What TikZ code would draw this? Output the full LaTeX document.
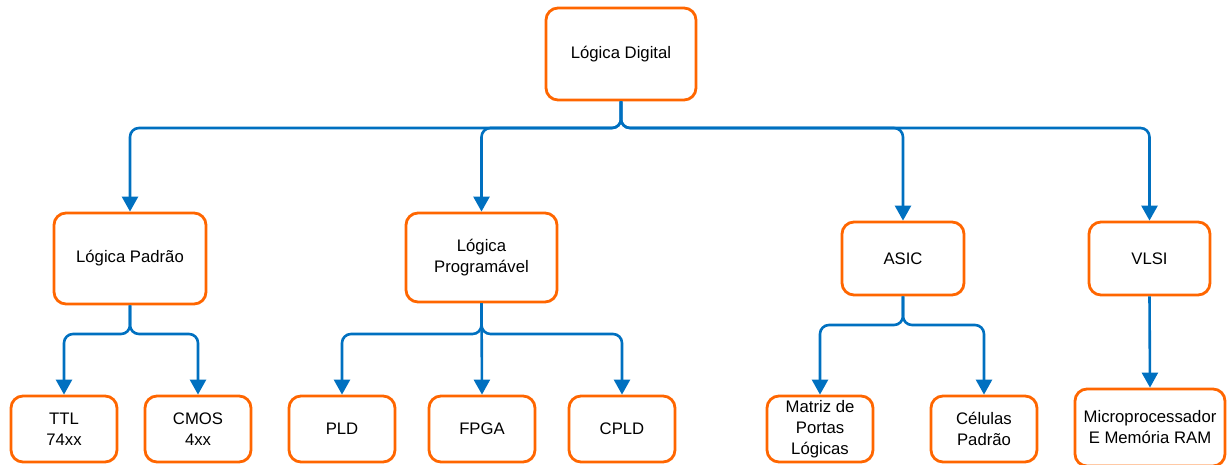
\documentclass[tikz,border=0pt]{standalone}
\usepackage{fontspec}
\setmainfont{Liberation Sans}
\usepackage{tikz}
\usetikzlibrary{arrows.meta,positioning,calc}
\usepackage{xcolor}
\definecolor{boxorange}{RGB}{255,102,0}
\definecolor{linkblue}{RGB}{0,112,192}
\tikzset{
  box/.style  = {draw=boxorange, line width=2.8pt, rounded corners=12pt,
                 fill=white, align=center, inner sep=2pt,
                 font=\fontsize{16.7}{21}\selectfont},
  link/.style = {-{Triangle[width=16pt,length=15pt]}, draw=linkblue,
                 line width=2.6pt, rounded corners=9pt},
}

\begin{document}
\begin{tikzpicture}[x=1pt,y=-1pt]
\useasboundingbox (0,0) rectangle (1229,464);
% top level
\node[box,minimum width=150pt,minimum height=92pt] (dig) at (621,54) {Lógica Digital};
% second level
\node[box,minimum width=152pt,minimum height=91pt] (pad) at (130,258.5) {Lógica Padrão};
\node[box,minimum width=151pt,minimum height=89pt] (prog) at (481.5,257.5) {Lógica\\Programável};
\node[box,minimum width=122pt,minimum height=73pt] (asic) at (903,258.5) {ASIC};
\node[box,minimum width=121pt,minimum height=73pt] (vlsi) at (1149.5,258.5) {VLSI};
% third level
\node[box,minimum width=106pt,minimum height=66pt] (ttl) at (64,429) {TTL\\74xx};
\node[box,minimum width=106pt,minimum height=66pt] (cmos) at (198,429) {CMOS\\4xx};
\node[box,minimum width=106pt,minimum height=66pt] (pld) at (342,429) {PLD};
\node[box,minimum width=106pt,minimum height=66pt] (fpga) at (482,429) {FPGA};
\node[box,minimum width=106pt,minimum height=66pt] (cpld) at (622,429) {CPLD};
\node[box,minimum width=106pt,minimum height=66pt] (mpl) at (820,429) {Matriz de\\Portas\\Lógicas};
\node[box,minimum width=106pt,minimum height=66pt] (cel) at (984,429) {Células\\Padrão};
\node[box,minimum width=150pt,minimum height=77pt] (micro) at (1150,427.5) {Microprocessador\\E Memória RAM};
% bus levels
\coordinate (bus0) at (0,128);
\coordinate (bus1) at (0,334);
\coordinate (bus2) at (0,325);
% links
\draw[link] (dig.south) |- (pad.north |- bus0) -- (pad.north);
\draw[link] (dig.south) |- (prog.north |- bus0) -- (prog.north);
\draw[link] (dig.south) |- (asic.north |- bus0) -- (asic.north);
\draw[link] (dig.south) |- (vlsi.north |- bus0) -- (vlsi.north);
\draw[link] (pad.south) |- (ttl.north |- bus1) -- (ttl.north);
\draw[link] (pad.south) |- (cmos.north |- bus1) -- (cmos.north);
\draw[link] (prog.south) |- (pld.north |- bus1) -- (pld.north);
\draw[link] (prog.south) -- (fpga.north);
\draw[link] (prog.south) |- (cpld.north |- bus1) -- (cpld.north);
\draw[link] (asic.south) |- (mpl.north |- bus2) -- (mpl.north);
\draw[link] (asic.south) |- (cel.north |- bus2) -- (cel.north);
\draw[link] (vlsi.south) -- (micro.north);
\end{tikzpicture}
\end{document}
